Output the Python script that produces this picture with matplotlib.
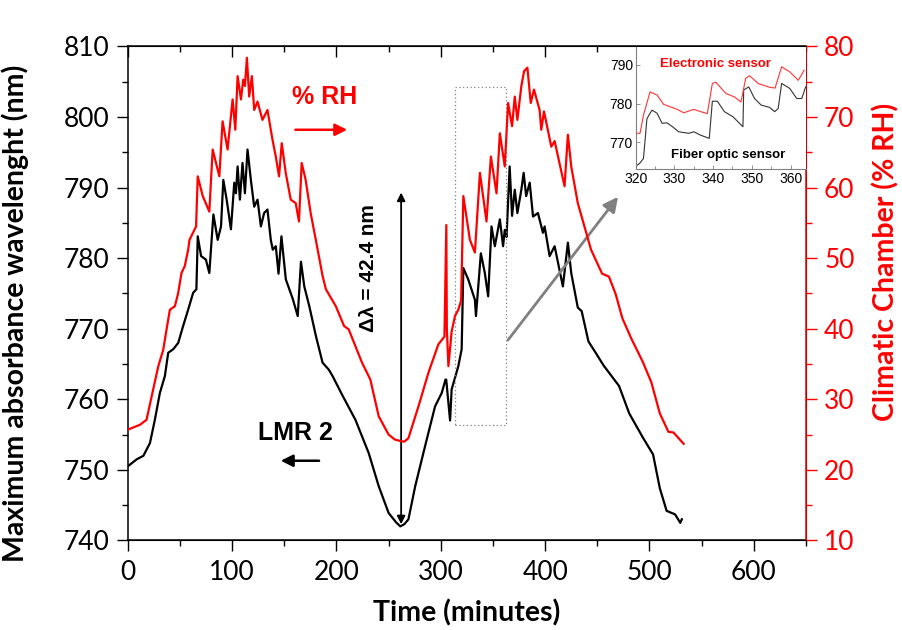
import matplotlib
matplotlib.use("Agg")
import matplotlib.pyplot as plt
from matplotlib.patches import Rectangle
from matplotlib.ticker import MultipleLocator

# LMR 2 resonance: time (min) and maximum absorbance wavelength (nm)
lmr_time = [0, 8.6, 15, 21.3, 26, 30.8, 35.6, 38.8, 43.6, 48.4, 53.1, 57.9, 62.7, 65.8,
            67.1, 70.3, 74.9, 78.2, 82.1, 86.2, 89.4, 91.6, 94.8, 98.9, 102.1, 103.7,
            105.3, 107.5, 110.0, 112.3, 114.8, 118.0, 121.2, 124.4, 127.6, 130.7, 133.9,
            137.1, 139.0, 141.9, 144.5, 147.3, 151.5, 158.0, 162.9, 166.0, 169.2, 174.0,
            180.3, 186.7, 192.7, 196.3, 205.6, 218.2, 230.9, 240.5, 250.0, 257.0, 261.2,
            265.0, 269.0, 275.5, 285.0, 294.5, 300.9, 304.5, 305.2, 308.9, 310.4, 316.8,
            320.0, 321.6, 326.3, 332.7, 333.7, 338.4, 342.2, 345.4, 348.6, 351.8, 356.6,
            359.7, 361.3, 363.0, 366.0, 368.3, 370.9, 373.4, 377.2, 379.4, 381.8, 385.2,
            388.4, 393.1, 397.9, 399.5, 404.3, 409.1, 417.0, 421.8, 425.0, 431.3, 435.0,
            441.5, 448.0, 456.0, 470.8, 480.6, 493.6, 503.4, 509.9, 516.4, 524.5, 529.5,
            531.0]
lmr_nm = [750.5, 751.5, 752.0, 753.8, 757.1, 760.9, 763.3, 766.6, 767.1, 768.0, 770.4,
          772.7, 775.1, 775.6, 783.1, 780.3, 779.8, 777.9, 786.2, 782.6, 784.5, 791.1,
          788.3, 784.1, 790.7, 789.2, 793.0, 788.3, 793.5, 789.2, 795.4, 791.1, 787.3,
          788.3, 784.5, 786.4, 786.9, 782.6, 781.2, 781.7, 777.8, 783.1, 777.0, 774.3,
          771.8, 779.5, 776.0, 773.2, 769.0, 765.2, 764.2, 763.3, 760.6, 757.1, 752.4,
          747.7, 743.9, 742.6, 742.0, 742.3, 743.0, 747.7, 753.4, 759.0, 760.9, 762.8,
          762.8, 757.0, 761.4, 764.7, 767.1, 778.6, 777.0, 774.1, 771.8, 780.7, 777.9,
          774.6, 784.5, 781.7, 785.5, 781.7, 784.0, 783.0, 793.0, 786.0, 789.7, 786.4,
          789.7, 792.1, 788.8, 790.7, 785.9, 786.4, 783.6, 784.5, 780.3, 781.7, 776.0,
          782.2, 777.9, 773.0, 772.5, 768.2, 766.7, 764.8, 761.9, 758.0, 754.6, 752.2,
          747.4, 744.2, 743.7, 742.5, 743.0]

# Climatic chamber: time (min) and relative humidity (%)
rh_time = [0, 11.8, 18, 22.9, 29.3, 34, 37.2, 40.4, 45.2, 48.4, 51.5, 54.7, 57.9, 59.2,
           65.5, 67.1, 71.9, 78.2, 81.4, 87.8, 90.9, 95.7, 100.5, 103.1, 105.3, 108.5,
           110.7, 112.3, 114.2, 116.4, 119.0, 121.2, 124.4, 129.1, 133.9, 138.7, 141.9,
           145.0, 147.6, 151.4, 156.2, 161.0, 164.1, 166.7, 170.5, 175.3, 180.5, 186.7,
           189.9, 199.4, 207.3, 211.8, 224.5, 232.5, 240.5, 250.0, 256.0, 261.2, 265.0,
           269.0, 278.6, 288.2, 297.7, 303.5, 305.3, 305.8, 307.3, 310.4, 313.6, 316.8,
           319.5, 321.6, 327.9, 332.7, 337.5, 343.8, 348.0, 353.4, 356.6, 361.3, 364.5,
           368.3, 370.9, 373.4, 377.2, 379.8, 383.0, 386.2, 389.3, 394.7, 396.3, 398.9,
           405.9, 409.1, 418.6, 421.8, 425.0, 431.3, 444.0, 454.6, 461.1, 467.6, 474.0,
           482.3, 493.6, 501.8, 509.9, 518.1, 523.0, 532.7]
rh_value = [25.7, 26.4, 27.1, 30.4, 34.7, 37.0, 39.9, 42.7, 43.2, 45.1, 47.9, 48.9, 51.2,
            52.6, 54.5, 61.6, 58.8, 56.6, 65.4, 61.6, 69.4, 65.4, 72.5, 68.2, 75.8, 72.5,
            75.3, 74.4, 78.4, 72.9, 75.8, 71.0, 72.2, 69.6, 71.0, 66.8, 64.4, 61.6, 66.3,
            62.1, 58.3, 57.8, 55.2, 63.5, 61.1, 56.4, 52.4, 47.5, 45.6, 43.2, 40.4, 39.9,
            35.2, 32.8, 27.6, 25.0, 24.3, 24.1, 24.0, 24.5, 29.0, 33.8, 37.8, 38.9, 54.7,
            40.0, 34.7, 39.6, 41.8, 42.7, 44.0, 58.8, 52.6, 50.8, 62.1, 55.2, 64.4, 59.2,
            67.7, 63.0, 72.0, 68.7, 72.9, 69.6, 74.4, 76.5, 77.0, 72.0, 73.9, 71.0, 68.2,
            70.8, 65.8, 66.6, 60.2, 67.5, 63.0, 57.8, 51.2, 47.8, 47.4, 44.9, 41.5, 38.7,
            35.3, 32.4, 28.0, 25.4, 25.3, 23.7]

# Zoomed window 320-364 min
inset_time_fiber = [320.0, 321.0, 322.0, 322.9, 324.2, 325.5, 326.8, 328.1, 329.5, 331.1,
                    333.7, 335.0, 336.8, 339.0, 339.8, 341.1, 342.9, 345.1, 347.7, 347.9,
                    349.2, 350.7, 352.4, 354.6, 355.9, 356.8, 357.7, 359.8, 361.6, 362.9,
                    363.9]
inset_fiber = [763.8, 764.5, 765.8, 776.1, 778.3, 777.5, 774.9, 775.0, 774.0, 772.7,
               772.3, 772.7, 771.8, 771.0, 780.6, 780.6, 777.9, 776.6, 774.0, 783.5,
               784.3, 781.3, 779.6, 779.0, 777.9, 778.7, 785.2, 783.9, 781.3, 781.3,
               784.3]
inset_time_elec = [320.0, 321.1, 322.0, 323.7, 325.5, 327.2, 330.7, 332.4, 335.0, 336.8,
                   338.5, 339.8, 340.7, 343.3, 345.5, 347.2, 348.4, 349.4, 351.6, 354.6,
                   356.0, 357.7, 359.8, 362.0, 363.5]
inset_elec = [772.3, 772.3, 777.0, 783.0, 782.2, 779.8, 778.5, 777.6, 778.5, 777.9,
              777.4, 785.2, 785.5, 782.6, 781.7, 780.4, 786.5, 787.2, 785.2, 784.2,
              784.0, 789.5, 788.2, 786.0, 788.6]

x_ticks = [0, 100, 200, 300, 400, 500, 600]
left_ticks = [740, 750, 760, 770, 780, 790, 800, 810]
right_ticks = [10, 20, 30, 40, 50, 60, 70, 80]
inset_xticks = [320, 330, 340, 350, 360]
inset_yticks = [770, 780, 790]

RED = "#ff0000"
TICK_FONT = "Lato"

fig = plt.figure(figsize=(9.02, 6.30), dpi=100)
ax = fig.add_axes([0.1416, 0.1421, 0.7520, 0.7841])
ax2 = ax.twinx()

ax.plot(lmr_time, lmr_nm, color="black", lw=1.6, zorder=3)
ax2.plot(rh_time, rh_value, color=RED, lw=1.6, zorder=2)

ax.set_xlim(0, 650)
ax.set_ylim(740, 810)
ax2.set_ylim(10, 80)

ax.set_xticks(x_ticks)
ax.set_yticks(left_ticks)
ax2.set_yticks(right_ticks)
ax.xaxis.set_minor_locator(MultipleLocator(50))
ax.yaxis.set_minor_locator(MultipleLocator(5))
ax2.yaxis.set_minor_locator(MultipleLocator(5))

ax.tick_params(axis="x", which="major", direction="out", length=8, width=1,
               top=True, labelsize=19, pad=6)
ax.tick_params(axis="x", which="minor", direction="out", length=4, width=1, top=True)
ax.tick_params(axis="y", which="major", direction="out", length=8, width=1,
               labelsize=19, pad=5)
ax.tick_params(axis="y", which="minor", direction="out", length=4, width=1)
ax2.tick_params(axis="y", which="major", direction="out", length=8, width=1,
                colors=RED, labelsize=19, pad=5)
ax2.tick_params(axis="y", which="minor", direction="out", length=4, width=1, colors=RED)
# top ticks point inward
for t in ax.xaxis.get_major_ticks():
    t.tick2line.set_marker(matplotlib.lines.TICKDOWN)
for t in ax.xaxis.get_minor_ticks():
    t.tick2line.set_marker(matplotlib.lines.TICKDOWN)
    t.tick2line.set_markersize(4)

for lab in ax.get_xticklabels() + ax.get_yticklabels() + ax2.get_yticklabels():
    lab.set_fontfamily(TICK_FONT)

for s in ("left", "bottom", "top"):
    ax.spines[s].set_linewidth(1.1)
ax2.spines["right"].set_color(RED)
ax2.spines["right"].set_linewidth(1.1)
ax2.spines["left"].set_visible(False)

ax.set_xlabel("Time (minutes)", fontsize=20.5, fontweight="bold", family=TICK_FONT)
ax.xaxis.set_label_coords(0.500, -0.120)
ax.set_ylabel("Maximum absorbance wavelenght (nm)", fontsize=20.5, fontweight="bold",
              family=TICK_FONT)
ax.yaxis.set_label_coords(-0.146, 0.46)
ax2.set_ylabel("Climatic Chamber (% RH)", fontsize=20.5, fontweight="bold",
               family=TICK_FONT, color=RED, rotation=90)
ax2.yaxis.set_label_coords(1.097, 0.564)

# annotations
ax.text(189, 802.8, "% RH", color=RED, fontsize=18, fontweight="bold",
        family="Liberation Sans", ha="center", va="center")
ax.annotate("", xy=(213, 798.2), xytext=(158, 798.2),
            arrowprops=dict(arrowstyle="-|>", color=RED, lw=1.8, mutation_scale=18))
ax.text(161, 755.2, "LMR 2", color="black", fontsize=18, fontweight="bold",
        family="Liberation Sans", ha="center", va="center")
ax.annotate("", xy=(144, 751.3), xytext=(186, 751.3),
            arrowprops=dict(arrowstyle="-|>", color="black", lw=1.8, mutation_scale=18))
ax.annotate("", xy=(262, 742.3), xytext=(262, 789.3),
            arrowprops=dict(arrowstyle="<|-|>", color="black", lw=1.3, mutation_scale=12,
                            shrinkA=0, shrinkB=0))
ax.text(230.3, 778.6, "\u0394\u03bb = 42.4 nm", rotation=90, fontsize=15, fontweight="bold",
        family="Liberation Sans", ha="center", va="center")
ax.add_patch(Rectangle((313.3, 756.4), 48.8, 47.9, fill=False, ls=(0, (1, 2)),
                       lw=0.9, ec="#808080", zorder=4))
ax.annotate("", xy=(469.9, 788.7), xytext=(364.4, 768.4),
            arrowprops=dict(arrowstyle="-|>", color="#808080", lw=2, mutation_scale=22,
                            shrinkA=0, shrinkB=0))

# inset
axi = fig.add_axes([0.7048, 0.7313, 0.1888, 0.1946])
axi.plot(inset_time_fiber, inset_fiber, color="#333333", lw=0.8)
axi.plot(inset_time_elec, inset_elec, color="#ff3333", lw=0.8)
axi.set_xlim(320, 364)
axi.set_ylim(763, 794.7)
axi.set_xticks(inset_xticks)
axi.set_yticks(inset_yticks)
axi.xaxis.set_minor_locator(MultipleLocator(5))
axi.tick_params(which="major", direction="in", length=3, width=0.6, labelsize=10, pad=2,
                color="#808080")
axi.tick_params(which="minor", direction="in", length=2, width=0.6, color="#808080")
for lab in axi.get_xticklabels() + axi.get_yticklabels():
    lab.set_fontfamily("Liberation Sans")
for s in axi.spines.values():
    s.set_color("#808080")
    s.set_linewidth(0.8)
axi.spines["top"].set_visible(False)
axi.spines["right"].set_visible(False)
axi.text(0.47, 0.855, "Electronic sensor", transform=axi.transAxes, color=RED,
         fontsize=9.5, fontweight="bold", family="Liberation Sans", ha="center", va="center")
axi.text(0.545, 0.12, "Fiber optic sensor", transform=axi.transAxes, color="black",
         fontsize=9.5, fontweight="bold", family="Liberation Sans", ha="center", va="center")

fig.savefig("out.png", dpi=100)
